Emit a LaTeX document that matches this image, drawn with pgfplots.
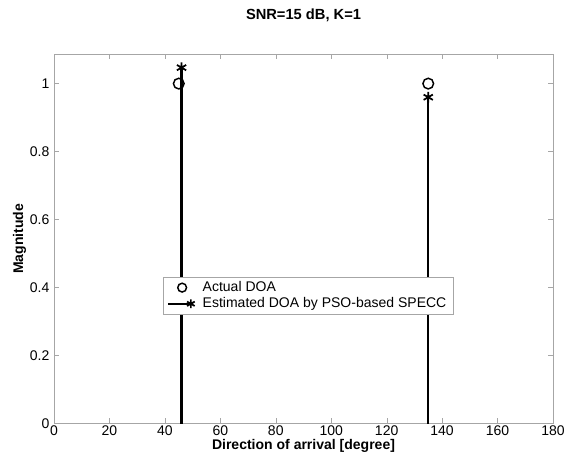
\documentclass[border=0pt]{standalone}
\usepackage{fontspec}
\setmainfont{Liberation Sans}
\usepackage{pgfplots}
\pgfplotsset{compat=1.18}
\usetikzlibrary{calc}
\begin{document}
\begin{tikzpicture}
\begin{axis}[
    name=main,
    scale only axis,
    width=374pt, height=277pt,
    xmin=0, xmax=180, ymin=0, ymax=1.087,
    xtick={0,20,...,180},
    ytick={0,0.2,...,1},
    yticklabels={0,0.2,0.4,0.6,0.8,1},
    axis line style={gray!70},
    tick style={gray!70},
    tick align=inside,
    xtick pos=both, ytick pos=both,
    major tick length=4pt,
    tick label style={font=\fontsize{10.5}{12}\selectfont},
    xticklabel style={inner sep=1.5pt},
    /pgf/number format/assume math mode=true,
    title={\bfseries SNR=15 dB, K=1},
    title style={font=\fontsize{11}{13}\selectfont, yshift=15pt},
    xlabel={\bfseries Direction of arrival [degree]},
    ylabel={\bfseries Magnitude},
    label style={font=\fontsize{10.5}{12}\selectfont},
    xlabel style={inner sep=1pt},
    ylabel style={yshift=-4pt},
    legend style={at={(axis cs:39.3,0.32)}, anchor=south west,
        draw=gray!70, font=\fontsize{10.5}{12}\selectfont, row sep=-1pt,
        inner xsep=3pt, inner ysep=1.5pt,
        /tikz/every odd column/.append style={column sep=4pt}},
    legend cell align=left,
    clip=false,
]
\addplot[only marks, mark=o, mark size=4pt, line width=1.1pt,
    legend image code/.code={
        \draw[white, opacity=0] (0cm,0cm) -- (0.6cm,0cm);
        \draw[black, line width=1.1pt, mark=o, mark size=3.3pt] plot coordinates {(0.37cm,0cm)};
    }] coordinates {(45,1.0) (135,1.0)};
\addlegendentry{Actual DOA}
\addplot[ycomb, black, line width=1.8pt, mark=asterisk, mark size=4pt,
    mark options={line width=1.3pt},
    legend image code/.code={
        \draw[black, line width=1.3pt] (0cm,0cm) -- (0.6cm,0cm);
        \draw[black, line width=1.3pt, mark=asterisk, mark size=3.3pt] plot coordinates {(0.6cm,0cm)};
    }] coordinates {(46,1.047) (135,0.96)};
\addlegendentry{Estimated DOA by PSO-based SPECC}
\end{axis}
\pgfresetboundingbox
\useasboundingbox ($(main.south west)+(-40.5pt,-25.5pt)$) rectangle ($(main.north east)+(19.5pt,40.5pt)$);
\end{tikzpicture}
\end{document}
